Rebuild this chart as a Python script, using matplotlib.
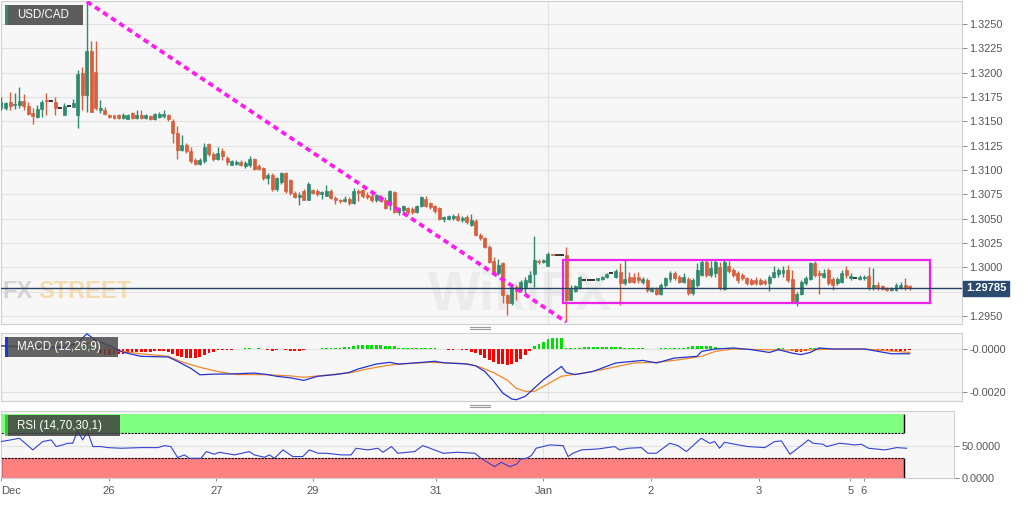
import matplotlib
matplotlib.use('Agg')
import matplotlib.pyplot as plt
from matplotlib.patches import Rectangle
import numpy as np

plt.rcParams['font.family'] = ['Liberation Sans', 'DejaVu Sans']

# ---------------- data (prices as pips above BASE) ----------------
BASE = 1.2900
PIP = 0.0001

open_p = [264,264,270,267,267,271,266,259,254,263,272,271,270,264,257,266,265,257,300,277,
          322,301,262,262,257,256,257,253,252,259,253,257,253,255,252,254,255,257,250,238,
          221,226,219,210,206,209,227,216,211,219,212,205,206,208,204,205,211,204,202,192,
          195,180,188,197,190,176,172,178,169,179,178,175,173,178,171,169,168,170,166,178,
          179,174,173,169,172,169,164,177,157,159,161,160,157,163,170,166,163,161,150,150,
          151,153,149,152,144,148,133,130,121,107,94,104,72,63,80,77,80,85,93,107,
          105,101,114,113,113,113,66,76,79,87,87,87,87,88,90,94,90,95,84,90,
          90,90,85,87,76,78,73,82,88,94,90,85,88,74,82,92,106,92,94,100,
          78,101,97,94,92,89,87,87,87,86,84,90,93,94,97,88,65,73,84,88,
          104,94,90,97,88,84,85,97,89,89,88,89,91,80,82,81,79,77,77,79,
          82,81]
high_p = [275,270,280,279,285,278,270,264,267,272,279,271,275,264,269,266,273,303,306,373,
          332,332,272,265,258,257,258,259,258,260,262,262,258,257,259,260,262,258,252,245,
          236,228,224,212,212,228,228,218,224,223,214,210,210,210,209,214,212,206,203,197,
          197,193,198,198,191,178,177,180,188,180,180,178,185,180,173,170,173,172,181,180,
          180,177,176,175,174,172,179,178,162,164,162,162,164,173,173,167,164,162,153,154,
          155,156,153,154,155,150,135,131,123,111,109,106,73,82,82,87,90,96,132,109,
          109,116,114,113,113,121,82,82,91,87,87,87,89,91,94,94,98,104,109,95,
          94,95,90,89,80,80,84,90,96,96,92,94,90,89,104,109,108,107,108,106,
          108,107,99,96,94,90,89,90,89,88,92,101,99,101,102,97,75,87,91,106,
          107,97,98,99,90,90,97,101,94,89,92,92,100,99,85,82,80,80,84,85,
          89,82]
low_p = [262,262,262,263,264,262,257,247,253,254,257,271,257,264,257,266,265,243,262,260,
         260,262,259,257,253,252,252,252,252,252,252,252,252,251,251,253,253,250,228,211,
         219,217,207,205,205,207,214,209,210,210,205,205,205,204,202,203,200,200,190,186,
         178,178,186,176,174,171,164,169,169,175,173,170,173,170,165,166,167,164,165,168,
         171,170,167,167,167,160,159,156,154,157,155,155,156,162,162,160,156,149,147,149,
         149,148,147,145,142,132,128,120,104,92,92,63,51,61,66,75,73,84,80,103,
         104,101,113,113,113,44,66,75,78,87,87,87,86,87,89,94,89,61,82,84,
         84,84,83,75,75,72,72,80,85,87,84,84,72,72,80,91,90,90,90,77,
         77,94,90,84,87,82,82,82,82,82,76,89,90,90,85,64,60,72,82,87,
         90,73,89,82,77,82,84,89,87,89,87,87,77,77,77,77,76,76,76,78,
         77,77]
close_p = [270,269,266,268,271,266,258,255,263,270,271,271,264,264,266,266,269,299,277,322,
           260,264,264,258,254,253,253,257,257,253,257,253,256,252,258,258,258,252,238,221,
           226,219,209,206,210,224,216,211,217,214,208,209,208,205,207,211,201,201,192,195,
           180,192,197,178,176,172,174,169,186,176,175,177,178,171,169,168,170,166,178,176,
           173,172,169,174,168,161,178,157,161,163,157,157,163,172,163,162,158,150,152,153,
           153,149,151,147,149,133,130,121,106,94,102,72,63,80,76,85,87,92,108,105,
           108,114,113,113,113,66,79,81,90,87,87,87,89,90,93,94,96,84,88,85,
           85,87,88,77,78,73,82,89,94,89,85,90,74,87,97,106,92,99,106,79,
           106,96,92,87,89,84,83,84,83,84,90,95,97,97,87,65,73,85,89,104,
           92,92,94,84,82,88,94,92,91,89,90,90,80,82,80,78,77,79,82,82,
           79,79]

# MACD (12,26,9), values in pips
macd_idx = [0,5,10,14,17,19,21,24,27,31,37,39,42,44,47,51,56,59,61,64,
            67,70,74,77,79,83,86,88,92,96,98,103,105,107,109,111,113,114,116,120,
            124,125,127,131,136,142,145,149,154,155,158,162,166,170,172,175,177,179,181,184,
            191,194,197,201]
macd_val = [1.5,1.0,0.5,0.8,3.0,7.1,4.0,1.5,-1.5,-3.4,-3.7,-5.7,-9.0,-12.0,-11.7,-11.6,-11.2,-11.9,-12.7,-13.4,
            -14.6,-12.7,-11.9,-10.9,-9.3,-7.0,-6.2,-7.0,-6.4,-5.7,-6.4,-7.0,-7.8,-10.4,-15.0,-20.5,-23.3,-23.6,-22.0,-14.3,
            -8.1,-10.9,-11.9,-10.4,-6.5,-5.3,-6.5,-4.2,-3.4,-1.1,0.0,0.5,-0.3,-1.6,-0.3,-1.9,-2.6,-1.6,0.5,0.0,
            0.0,-1.1,-2.2,-2.2]
signal_idx = [0,10,17,20,25,30,37,40,44,48,52,58,64,67,73,77,81,85,88,95,
              103,106,109,112,114,116,118,120,124,129,133,140,145,150,155,158,162,169,177,184,
              191,195,201]
signal_val = [1.5,1.0,1.5,3.0,-0.5,-2.0,-3.4,-6.0,-8.5,-10.5,-11.9,-11.9,-12.5,-13.2,-11.9,-11.2,-9.3,-7.8,-7.0,-6.2,
              -6.8,-8.4,-11.0,-14.5,-18.3,-19.7,-19.7,-17.4,-12.7,-11.2,-9.6,-6.5,-6.2,-5.0,-3.4,-1.1,0.0,-0.3,-0.6,0.0,
              0.0,-0.6,-1.6]
hist_val = [0.3,0.2,0.1,0.0,0.1,0.2,-0.1,-0.3,-0.2,0.1,
            0.2,0.1,-0.1,-0.2,-0.3,-0.1,0.0,
            1.5,1.0,3.5,1.5,-0.5,
            -2.0,-2.6,-2.6,-2.5,-2.3,-2.1,-1.9,-1.8,-1.6,-1.4,-1.3,-1.2,-1.0,-0.8,-0.7,
            -1.5,-2.5,-3.3,-3.8,-4.2,-4.2,-4.0,-3.5,-2.8,-2.0,-1.2,
            -0.6,-0.4,-0.3,-0.3,-0.2,-0.1,
            0.3,0.3,0.2,0.3,0.1,
            -0.6,-0.8,-0.5,-0.2,
            -0.6,-0.8,-0.8,-0.9,-0.6,
            -0.2,0.1,0.2,
            0.3,0.4,0.5,0.5,0.6,0.8,1.0,
            1.5,1.8,2.0,2.0,2.0,1.9,1.8,1.6,1.4,1.2,
            0.5,0.4,0.3,0.4,0.5,0.4,0.3,0.4,0.3,0.1,
            -0.2,-0.3,-0.3,-0.2,-0.3,-0.5,
            -1.2,-2.0,-2.8,-4.0,-5.2,-6.2,-6.8,-7.2,-7.3,-7.0,-6.0,-4.5,-2.8,-1.0,
            1.2,2.5,3.5,4.5,5.0,5.1,5.0,
            0.3,0.5,0.6,0.7,0.8,1.0,1.0,1.1,1.0,1.0,0.9,0.8,0.8,0.7,0.6,0.5,0.4,0.3,0.2,0.1,0.1,
            0.6,0.7,0.7,0.6,0.5,0.4,
            1.0,1.4,1.5,1.5,1.4,1.2,0.9,0.6,0.5,
            0.4,0.3,0.2,0.1,0.0,
            -0.4,-0.5,-0.5,-0.4,-0.2,
            0.2,0.3,0.3,0.1,
            -1.0,-1.5,-1.5,-1.0,
            0.4,0.6,0.6,0.5,0.3,0.1,
            0.1,0.2,0.1,0.0,0.1,0.0,-0.1,
            -0.4,-0.6,-0.7,-0.8,-0.8,-0.8,-0.8,-0.7,-0.7,-0.6]

# RSI (14,70,30,1)
rsi_idx = [0,2.2,4.1,7.1,9.3,11.2,12.3,13.8,14.9,16,17.1,18.2,19.3,20.5,22.3,23.8,26.8,31.3,35,36.5,
           37.9,39.4,40.9,42,44.6,45.8,47.6,48.7,52.1,55.4,56.5,58.8,59.9,61,62.9,65.1,67.3,68.8,70.7,72.5,
           75.9,78.1,79.2,81.8,84.1,85.2,87.1,88.5,92.3,94.1,96.7,98.6,101.9,105.7,107.1,110.1,111.6,113.5,115,116,
           117.2,118.3,119.4,122.4,125.4,126.5,127.6,129.5,133.2,136.9,138,139.9,142.9,144.3,146.2,149.2,151,152.9,156.2,158.1,
           159.2,160.3,161.4,163.7,166.6,170.4,172.6,174.1,176,178.9,180.1,181.2,183.4,184.2,187.1,190.5,192,193.5,197.2,199.8,
           202]
rsi_val = [56.3,58.9,61.5,43.3,56.3,58.9,48.5,51.1,53.7,53.7,73.0,58.9,71.9,48.5,48.5,46.9,45.9,46.9,46.9,50.0,
           48.5,31.3,35.5,30.2,30.2,40.7,36.5,39.6,35.5,40.7,35.5,31.8,35.5,30.2,43.3,32.9,32.9,43.3,38.1,38.1,
           35.5,35.5,45.9,43.3,45.9,39.6,48.5,38.1,40.7,50.0,43.3,38.1,39.6,38.1,30.2,17.2,24.0,17.2,20.9,29.2,
           30.2,34.4,45.9,51.1,50.0,32.9,38.1,43.3,44.8,48.5,43.3,45.9,46.9,38.1,38.1,53.7,50.0,40.7,61.5,53.7,
           56.3,45.9,55.2,52.1,48.5,46.9,56.3,57.3,36.5,52.1,58.9,53.7,52.1,48.5,53.7,51.1,52.1,45.9,43.3,46.9,
           45.9]

tick_pos = [0, 24, 48, 69.5, 97, 121, 145, 169, 189.5, 192.5]
tick_lab = ['Dec', '26', '27', '29', '31', 'Jan', '2', '3', '5', '6']

price_grid = [1.2950, 1.2975, 1.3000, 1.3025, 1.3050, 1.3075, 1.3100, 1.3125,
              1.3150, 1.3175, 1.3200, 1.3225, 1.3250]
price_labels = [1.2950, 1.3000, 1.3025, 1.3050, 1.3075, 1.3100, 1.3125,
                1.3150, 1.3175, 1.3200, 1.3225, 1.3250]
last_price = 1.29785
trend_from, trend_to = 19, 125           # candle high -> candle low
box_x = (124.3, 205.5)
box_y = (1.29637, 1.30075)

# ---------------- figure ----------------
W, H = 1032, 505
fig = plt.figure(figsize=(W / 100, H / 100), dpi=100)
fig.patch.set_facecolor('white')


def px_axes(x0, y0, x1, y1):
    return fig.add_axes([x0 / W, 1 - y1 / H, (x1 - x0) / W, (y1 - y0) / H])


def fx(x):
    return x / W


def fy(y):
    return 1 - y / H


XLIM = (-0.11, 212.6)
BG = '#f7f7f7'
FRAME = '#cfcfcf'
GRID = '#e2e2e2'
TXT = '#555555'
GREEN = '#2e8b6e'
RED = '#d6603e'

ax = px_axes(0.5, 1, 962, 324)
axm = px_axes(0.5, 332.7, 962, 401)
axr = px_axes(0.5, 411, 954, 478.3)

for a in (ax, axm, axr):
    a.set_facecolor(BG)
    a.set_xlim(*XLIM)
    for s in a.spines.values():
        s.set_color(FRAME)
        s.set_linewidth(0.8)
    a.yaxis.tick_right()
    a.tick_params(axis='y', colors='#888888', labelcolor=TXT, labelsize=7.8,
                  length=3.5, width=0.7, pad=2)
    a.tick_params(axis='x', colors='#888888', labelcolor=TXT, labelsize=8,
                  length=2.5, width=0.7, pad=3)
    a.axvline(121, color=GRID, lw=0.8, zorder=0.5)

# ---- price panel ----
o = BASE + np.array(open_p) * PIP
h = BASE + np.array(high_p) * PIP
l = BASE + np.array(low_p) * PIP
c = BASE + np.array(close_p) * PIP
idx = np.arange(len(o))

ax.set_ylim(1.29418, 1.32736)
ax.set_yticks(price_labels)
ax.set_yticklabels([f'{v:.4f}' for v in price_labels])
ax.set_xticks([])
for v in price_grid:
    ax.axhline(v, color=GRID, lw=0.8, zorder=0.5)

# watermarks
ax.text(fx(2), fy(291), 'FX', transform=fig.transFigure, fontsize=17, fontweight='bold',
        color='#d4d4d4', va='center', ha='left', zorder=0.6)
ax.text(fx(38), fy(291), 'STREET', transform=fig.transFigure, fontsize=17, fontweight='bold',
        color='#f5dcae', va='center', ha='left', zorder=0.6)
ax.text(fx(520), fy(296), 'WikiFX', transform=fig.transFigure, fontsize=40, fontweight='bold',
        color='#bbbbbb', alpha=0.18, va='center', ha='center', zorder=0.6)

for i in idx:
    if c[i] > o[i]:
        col = GREEN
    elif c[i] < o[i]:
        col = RED
    else:
        col = None
    if col is None:
        ax.hlines(o[i], i - 0.45, i + 0.45, color='black', lw=1.1, zorder=3)
        continue
    ax.vlines(i, l[i], h[i], color=col, lw=1.0, zorder=3)
    ax.bar(i, abs(c[i] - o[i]), bottom=min(o[i], c[i]), width=0.66, color=col,
           edgecolor=col, linewidth=0.5, zorder=3)

# trend line
ax.plot([trend_from, trend_to], [h[trend_from], l[trend_to]], color='#ff1cf0', lw=2.7,
        linestyle=(0, (1.5, 1.1)), zorder=4, solid_capstyle='butt')
# range box
ax.add_patch(Rectangle((box_x[0], box_y[0]), box_x[1] - box_x[0], box_y[1] - box_y[0],
                       fill=False, edgecolor='#ee22ee', lw=1.6, zorder=4))
# last price line and label
ax.axhline(last_price, color='#274468', lw=1.0, zorder=5)
ax.text(1.004, last_price, f'{last_price:.5f}', transform=ax.get_yaxis_transform(),
        fontsize=8, fontweight='bold', color='white', va='center', ha='left', zorder=6,
        bbox=dict(boxstyle='square,pad=0.22', fc='#2b4a6f', ec='#2b4a6f'), clip_on=False)

# ---- MACD panel ----
axm.set_ylim(-0.00242, 0.00076)
axm.set_yticks([0.0, -0.0020])
axm.set_yticklabels(['-0.0000', '-0.0020'])
axm.set_xticks([])
for v in (0.0, -0.0020):
    axm.axhline(v, color=GRID, lw=0.8, zorder=0.5)
hv = np.array(hist_val) * PIP
axm.bar(idx, hv, width=0.62, color=['#00e000' if v > 0 else '#ff0000' for v in hv],
        linewidth=0, zorder=2)
axm.plot(signal_idx, np.array(signal_val) * PIP, color='#f0882a', lw=0.9, zorder=3)
axm.plot(macd_idx, np.array(macd_val) * PIP, color='#2333cc', lw=0.9, zorder=4)

# ---- RSI panel ----
axr.set_ylim(-1, 104)
axr.set_yticks([50, 0])
axr.set_yticklabels(['50.0000', '0.0000'])
axr.axhline(50, color=GRID, lw=0.8, zorder=0.5)
rsi_end = 201.5
axr.add_patch(Rectangle((XLIM[0], 70), rsi_end - XLIM[0], 30, fc='#80ff80', ec='none', zorder=1))
axr.add_patch(Rectangle((XLIM[0], 0), rsi_end - XLIM[0], 30, fc='#ff8080', ec='none', zorder=1))
axr.hlines([70, 30], XLIM[0], rsi_end, color='black', lw=0.8, linestyle=(0, (2, 1)), zorder=2)
axr.vlines(rsi_end, 70, 100, color='black', lw=1.0, zorder=2)
axr.vlines(rsi_end, 0, 30, color='black', lw=1.0, zorder=2)
axr.vlines(0.1, 0, 30, color='black', lw=1.0, zorder=2)
axr.plot(rsi_idx, rsi_val, color='#3344cc', lw=0.8, zorder=3)
axr.set_xticks(tick_pos)
axr.set_xticklabels(tick_lab)
for lab in axr.get_xticklabels():
    if lab.get_text() == 'Dec':
        lab.set_ha('left')


# ---- label boxes ----
def label_box(x0, y0, x1, y1, text, bar_col, fc, alpha):
    fig.add_artist(Rectangle((fx(x0), fy(y1)), fx(x1 - x0), (y1 - y0) / H,
                             transform=fig.transFigure, fc=fc, ec='none', alpha=alpha, zorder=10))
    fig.add_artist(Rectangle((fx(x0), fy(y1)), fx(2.5), (y1 - y0) / H,
                             transform=fig.transFigure, fc=bar_col, ec='none', zorder=11))
    fig.text(fx(x0 + 12), fy((y0 + y1) / 2), text, color='white', fontsize=8.3,
             va='center', ha='left', zorder=12)


label_box(5, 5, 83, 25, 'USD/CAD', '#2e8b6e', '#555555', 0.95)
label_box(5, 337, 118, 357, 'MACD (12,26,9)', '#1a3ccc', '#4a4a4a', 0.85)
label_box(5, 415, 120, 436, 'RSI (14,70,30,1)', '#2fcf2f', '#404040', 0.85)

# pane splitters
for yy in (326.5, 329, 404.5, 407):
    fig.add_artist(plt.Line2D([fx(470), fx(490)], [fy(yy), fy(yy)], transform=fig.transFigure,
                              color='#999999', lw=0.8))

fig.savefig('out.png', dpi=100, facecolor='white')
